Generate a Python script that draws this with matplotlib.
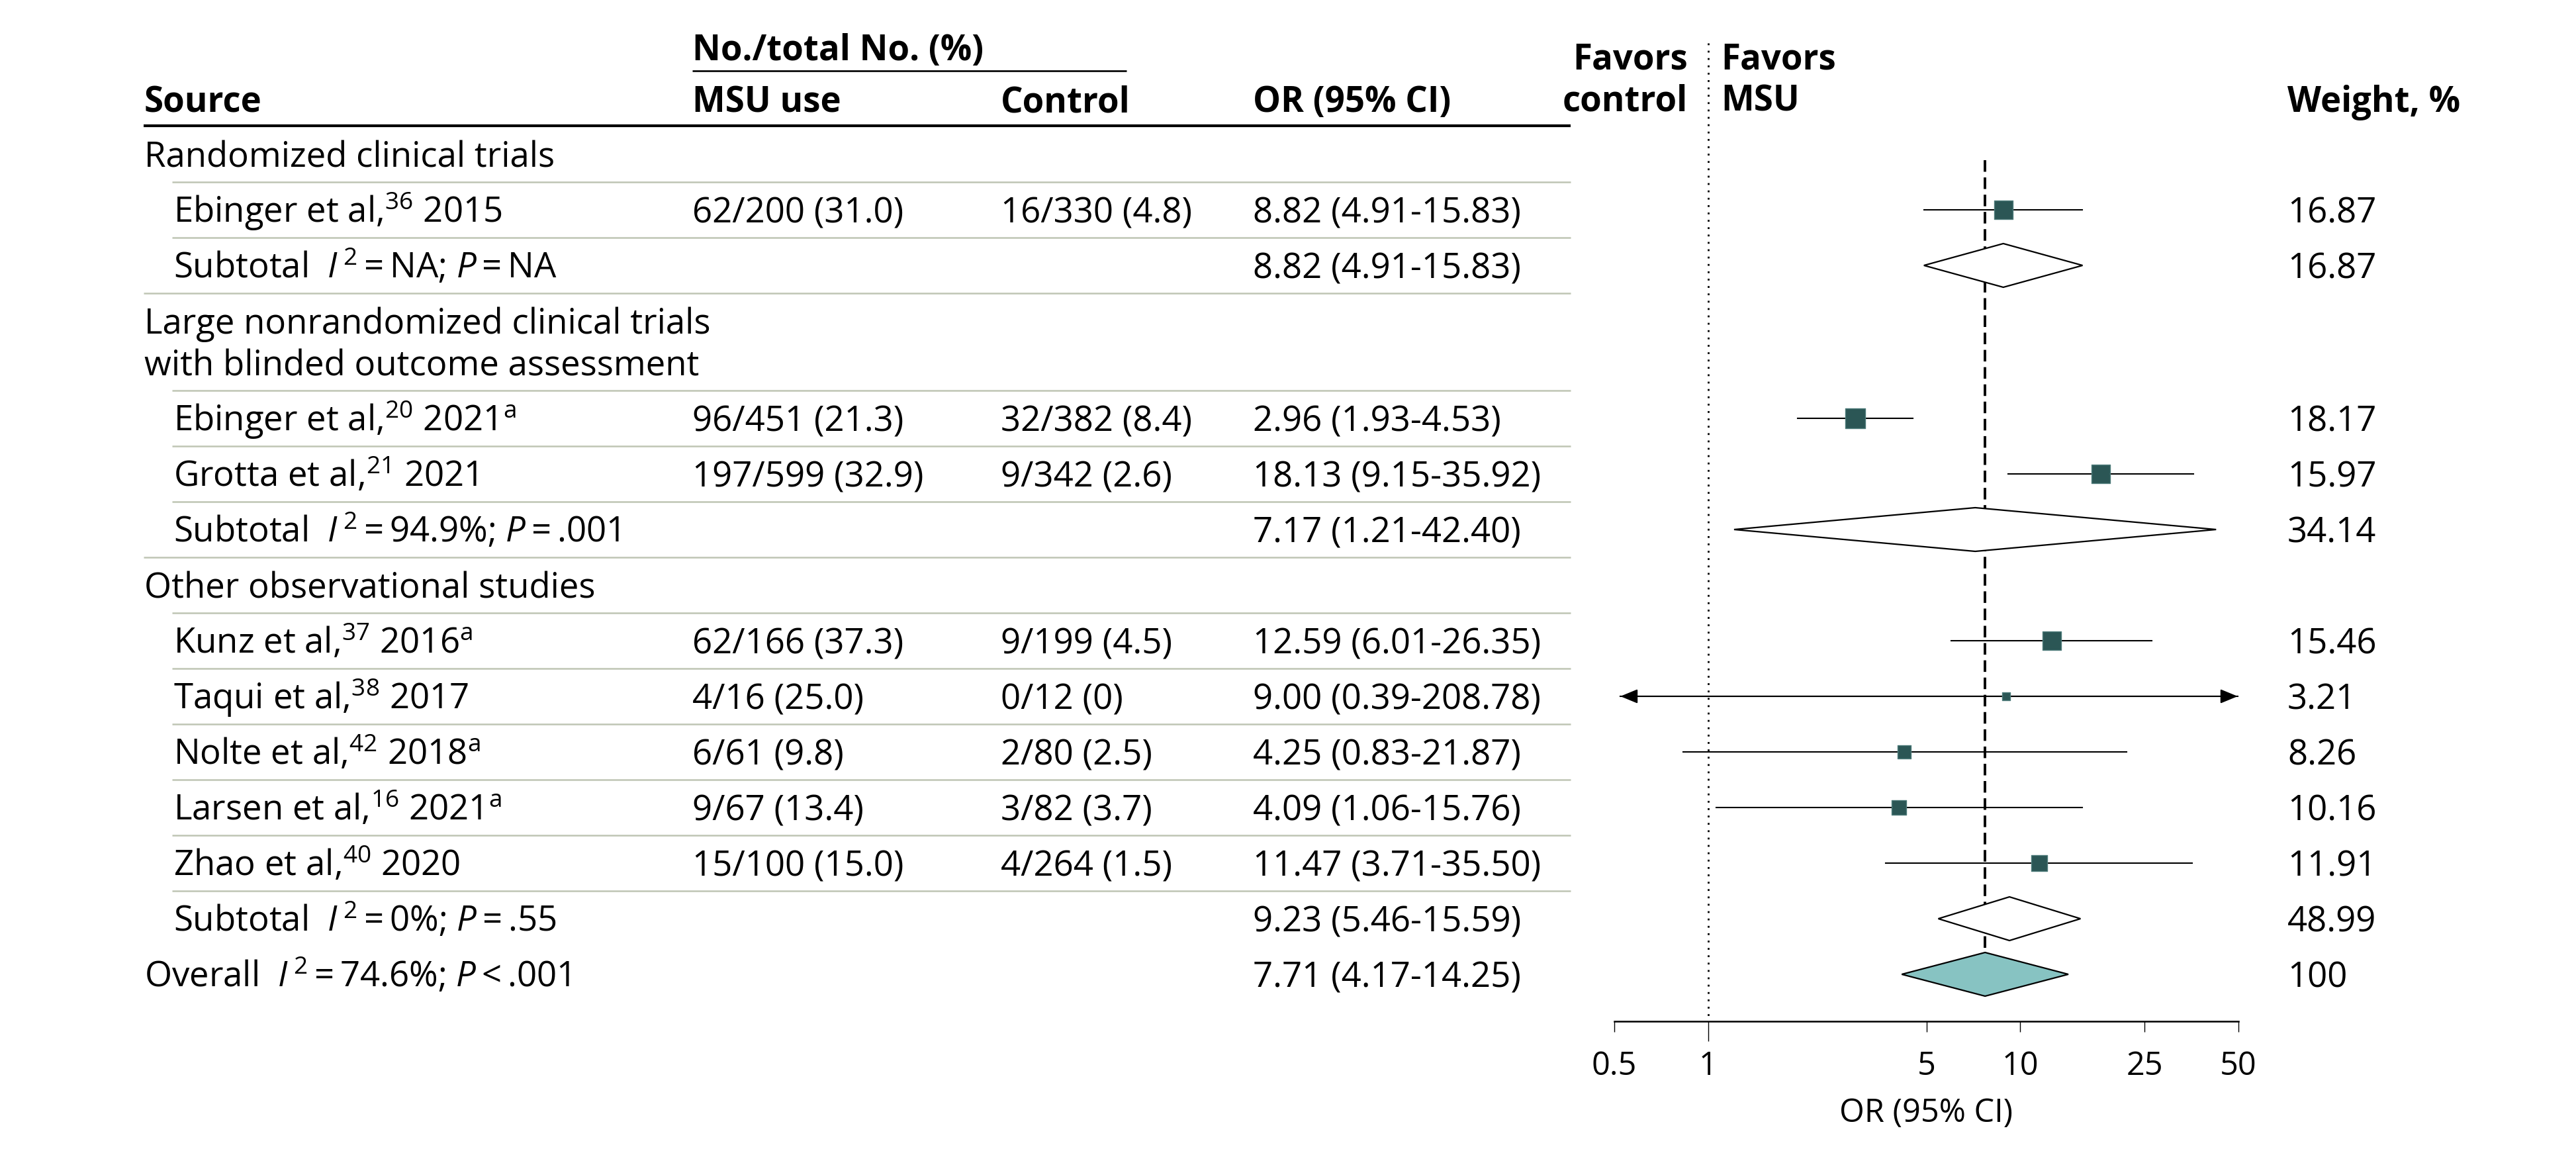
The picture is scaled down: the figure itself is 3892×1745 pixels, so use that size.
import matplotlib
matplotlib.use("Agg")
import matplotlib.pyplot as plt
import numpy as np

plt.rcParams['font.family'] = ['Open Sans', 'DejaVu Sans']
plt.rcParams['mathtext.fontset'] = 'custom'
plt.rcParams['mathtext.rm'] = 'Open Sans'
plt.rcParams['mathtext.it'] = 'Open Sans:italic'
plt.rcParams['mathtext.bf'] = 'Open Sans:bold'

# ---- data ----
group_names = ["Randomized clinical trials",
               "Large nonrandomized clinical trials\nwith blinded outcome assessment",
               "Other observational studies"]
study_names = [r"Ebinger et al,$^{36}$ 2015",
               r"Ebinger et al,$^{20}$ 2021$^{\mathrm{a}}$",
               r"Grotta et al,$^{21}$ 2021",
               r"Kunz et al,$^{37}$ 2016$^{\mathrm{a}}$",
               r"Taqui et al,$^{38}$ 2017",
               r"Nolte et al,$^{42}$ 2018$^{\mathrm{a}}$",
               r"Larsen et al,$^{16}$ 2021$^{\mathrm{a}}$",
               r"Zhao et al,$^{40}$ 2020"]
study_group = [0, 1, 1, 2, 2, 2, 2, 2]
msu_counts = ["62/200 (31.0)", "96/451 (21.3)", "197/599 (32.9)", "62/166 (37.3)",
              "4/16 (25.0)", "6/61 (9.8)", "9/67 (13.4)", "15/100 (15.0)"]
ctrl_counts = ["16/330 (4.8)", "32/382 (8.4)", "9/342 (2.6)", "9/199 (4.5)",
               "0/12 (0)", "2/80 (2.5)", "3/82 (3.7)", "4/264 (1.5)"]
study_or = [8.82, 2.96, 18.13, 12.59, 9.00, 4.25, 4.09, 11.47]
study_lo = [4.91, 1.93, 9.15, 6.01, 0.39, 0.83, 1.06, 3.71]
study_hi = [15.83, 4.53, 35.92, 26.35, 208.78, 21.87, 15.76, 35.50]
study_w = [16.87, 18.17, 15.97, 15.46, 3.21, 8.26, 10.16, 11.91]

sub_labels = ["Subtotal  $I^{\\,2}$\u2009=\u2009NA; $P$\u2009=\u2009NA",
              "Subtotal  $I^{\\,2}$\u2009=\u200994.9%; $P$\u2009=\u2009.001",
              "Subtotal  $I^{\\,2}$\u2009=\u20090%; $P$\u2009=\u2009.55"]
sub_or = [8.82, 7.17, 9.23]
sub_lo = [4.91, 1.21, 5.46]
sub_hi = [15.83, 42.40, 15.59]
sub_w = [16.87, 34.14, 48.99]

overall_label = "Overall  $I^{\\,2}$\u2009=\u200974.6%; $P$\u2009<\u2009.001"
overall_or, overall_lo, overall_hi, overall_w = 7.71, 4.17, 14.25, 100

xticks = [0.5, 1, 5, 10, 25, 50]
xtick_labels = ["0.5", "1", "5", "10", "25", "50"]

# ---- layout (pixel units, y downward) ----
W, H = 3892, 1745
FS = 38
PITCH = 84
x_src, x_ind, x_msu, x_ctl, x_or, x_wt = 218, 262, 1046, 1512, 1893, 3456
line_l_full, line_l_ind, line_r = 217, 260, 2373
ax_left, ax_right, ax_y = 2439, 3382, 1543
gray = "#bfc5b4"
sq_color, sq_edge = "#2b5655", "#4d7b7a"
dia_fill = "#87c3c2"
base_off = 19
HW = "bold"

fig = plt.figure(figsize=(W / 100, H / 100), dpi=100)
tab = fig.add_axes([0, 0, 1, 1])
tab.set_xlim(0, W)
tab.set_ylim(H, 0)
tab.axis("off")

fa = fig.add_axes([ax_left / W, (H - ax_y) / H, (ax_right - ax_left) / W, ax_y / H])
fa.set_xscale("log")
fa.set_xlim(0.5, 50)
fa.set_ylim(ax_y, 0)
fa.patch.set_alpha(0)
for s in ["left", "right", "top"]:
    fa.spines[s].set_visible(False)
fa.spines["bottom"].set_linewidth(1.8)
fa.set_yticks([])
fa.set_xticks(xticks)
fa.set_xticklabels(xtick_labels, fontsize=35)
fa.minorticks_off()
fa.tick_params(axis="x", length=11.5, width=1.0, pad=20, direction="out")
fa.xaxis.get_major_ticks()[1].tick1line.set_markersize(21.6)


def txt(x, y, s, **kw):
    tab.text(x, y + base_off, s, fontsize=FS, va="baseline", ha=kw.pop("ha", "left"), **kw)


def hline(y, x0, lw=1.8, color=gray):
    tab.plot([x0, line_r], [y, y], color=color, lw=lw, solid_capstyle="butt")


# headers
txt(x_msu, 72, "No./total No. (%)", fontweight=HW)
tab.plot([x_msu, 1702], [107, 107], color="black", lw=1.9, solid_capstyle="butt")
txt(x_src, 150, "Source", fontweight=HW)
txt(x_msu, 150, "MSU use", fontweight=HW)
txt(x_ctl, 150, "Control", fontweight=HW)
txt(x_or, 150, "OR (95% CI)", fontweight=HW)
txt(x_wt, 150, "Weight, %", fontweight=HW)
txt(2550, 85, "Favors", fontweight=HW, ha="right")
txt(2550, 148, "control", fontweight=HW, ha="right")
txt(2600, 85, "Favors", fontweight=HW)
txt(2600, 148, "MSU", fontweight=HW)
tab.plot([line_l_full, line_r], [190, 190], color="black", lw=3.0, solid_capstyle="butt")


def fmt_ci(o, lo, hi):
    return f"{o:.2f} ({lo:.2f}-{hi:.2f})"


def diamond(o, lo, hi, y, fill):
    h = 33
    fa.fill([lo, o, hi, o], [y, y - h, y, y + h], facecolor=fill, edgecolor="black",
            lw=1.6, zorder=3, joinstyle="miter")


y = 233
for g, gname in enumerate(group_names):
    lines = gname.split("\n")
    for i, ln in enumerate(lines):
        txt(x_src, y + i * 63, ln)
    y += PITCH * (1 + 0.75 * (len(lines) - 1))
    hline(y - 42, line_l_ind)
    for k in [i for i, sg in enumerate(study_group) if sg == g]:
        txt(x_ind, y, study_names[k])
        txt(x_msu, y, msu_counts[k])
        txt(x_ctl, y, ctrl_counts[k])
        txt(x_or, y, fmt_ci(study_or[k], study_lo[k], study_hi[k]))
        txt(x_wt, y, f"{study_w[k]:.2f}")
        lo, hi = study_lo[k], study_hi[k]
        lo_c, hi_c = max(lo, 0.523), min(hi, 49.7)
        fa.plot([lo_c, hi_c], [y, y], color="black", lw=1.5, zorder=2)
        aprops = dict(arrowstyle="-|>,head_length=0.8,head_width=0.33", color="black",
                      lw=1.5, mutation_scale=20, shrinkA=0, shrinkB=0)
        if lo < 0.5:
            fa.annotate("", xy=(lo_c, y), xytext=(study_or[k], y), arrowprops=aprops)
        if hi > 50:
            fa.annotate("", xy=(hi_c, y), xytext=(study_or[k], y), arrowprops=aprops)
        fa.scatter([study_or[k]], [y], marker="s", s=25.4 * study_w[k], color=sq_color,
                   edgecolors=sq_edge, linewidths=1.0, zorder=4)
        hline(y + 42, line_l_ind)
        y += PITCH
    txt(x_ind, y, sub_labels[g])
    txt(x_or, y, fmt_ci(sub_or[g], sub_lo[g], sub_hi[g]))
    txt(x_wt, y, f"{sub_w[g]:.2f}")
    diamond(sub_or[g], sub_lo[g], sub_hi[g], y, "white")
    if g < len(group_names) - 1:
        hline(y + 42, line_l_full)
    y += PITCH

txt(x_src, y, overall_label)
txt(x_or, y, fmt_ci(overall_or, overall_lo, overall_hi))
txt(x_wt, y, f"{overall_w}")
diamond(overall_or, overall_lo, overall_hi, y, dia_fill)

# reference lines
fa.plot([1, 1], [65, ax_y], color="black", lw=2.0, linestyle=(0, (1, 3)), zorder=1)
fa.plot([overall_or, overall_or], [242, y - 35], color="black", lw=2.8,
        linestyle=(0, (4.5, 2.2)), zorder=1)

tab.text((ax_left + ax_right) / 2, 1682, "OR (95% CI)", fontsize=35, ha="center", va="center")

fig.savefig("out.png", dpi=100)
